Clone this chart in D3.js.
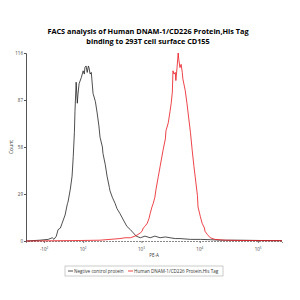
<!DOCTYPE html>
<html>
<head>
<meta charset="utf-8">
<script src="https://cdn.jsdelivr.net/npm/d3@7"></script>
<style>
  body { margin: 0; background: #fff; }
  text { font-family: "Open Sans", "Liberation Sans", sans-serif; }
</style>
</head>
<body>
<script>
// FACS histogram, PE-A on a biexponential-like axis (values in decade units)
var w = 300;
var h = 300;

// x axis ticks (decade units) and their labels
var tickPos = [1.33, 2, 3, 4, 5];
var tickLabels = ["-10", "10", "10", "10", "10"];
var tickPowers = ["2", "2", "3", "4", "5"];
var countTicks = [0, 29, 58, 87, 116];

// Negative control
var negX = [1.02, 1.26, 1.40, 1.47, 1.50, 1.54, 1.57, 1.61, 1.64, 1.66, 1.69, 1.73, 1.74, 1.78, 1.81, 1.83, 1.85, 1.86, 1.88, 1.90, 1.91, 1.93, 1.97, 2.00, 2.02, 2.03, 2.05, 2.07, 2.09, 2.10, 2.12, 2.14, 2.17, 2.21, 2.24, 2.27, 2.29, 2.33, 2.34, 2.38, 2.41, 2.45, 2.46, 2.50, 2.55, 2.58, 2.63, 2.69, 2.75, 2.81, 2.86, 2.91, 2.98, 3.06, 3.15, 3.23, 3.32, 3.41, 3.49, 3.58, 3.66, 3.84, 4.01, 4.18, 4.35, 4.69, 5.04, 5.41];
var negY = [0, 0.5, 1, 2, 1, 3, 7, 8, 11, 13, 16, 23, 24, 32, 40, 52, 67, 80, 98, 85, 90, 97, 101, 105, 103, 107, 108, 104, 108, 107, 103, 104, 91, 86, 79, 71, 64, 58, 54, 47, 40, 33, 31, 27, 23, 20, 17, 13, 9, 7, 5, 3, 2, 3, 2, 3, 2, 2.5, 2, 1.5, 1.5, 1, 1, 0.8, 0.5, 0.5, 0.3, 0.2];

// Human DNAM-1/CD226 Protein,His Tag
var posX = [1.02, 1.95, 2.29, 2.46, 2.63, 2.72, 2.81, 2.89, 2.94, 2.98, 3.01, 3.03, 3.06, 3.10, 3.13, 3.15, 3.18, 3.20, 3.23, 3.25, 3.29, 3.32, 3.34, 3.37, 3.41, 3.42, 3.46, 3.49, 3.51, 3.53, 3.54, 3.56, 3.58, 3.59, 3.61, 3.63, 3.64, 3.66, 3.68, 3.70, 3.71, 3.75, 3.78, 3.80, 3.84, 3.87, 3.90, 3.92, 3.96, 3.97, 4.01, 4.04, 4.08, 4.09, 4.13, 4.18, 4.26, 4.44, 4.69, 5.41];
var posY = [0, 0.3, 0.5, 1, 1.5, 2, 2, 3, 4, 5, 6, 8, 9, 11, 14, 17, 21, 23, 27, 32, 40, 46, 50, 56, 63, 68, 73, 80, 85, 92, 105, 103, 104, 99, 107, 116, 112, 107, 109, 104, 100, 93, 85, 79, 67, 56, 46, 40, 28, 21, 15, 11, 8, 6, 4, 2, 1, 0.5, 0.3, 0.2];

var xScale = d3.scaleLinear().domain([1.02, 5.41]).range([26, 282]);
var yScale = d3.scaleLinear().domain([0, 116]).range([241, 53]);

var svg = d3.select("body").append("svg")
    .attr("width", w)
    .attr("height", h);

// title
svg.append("text")
    .attr("x", 148).attr("y", 34)
    .attr("text-anchor", "middle")
    .attr("font-size", 7.3).attr("font-weight", "bold")
    .text("FACS analysis of Human DNAM-1/CD226 Protein,His Tag");
svg.append("text")
    .attr("x", 148).attr("y", 44)
    .attr("text-anchor", "middle")
    .attr("font-size", 7.3).attr("font-weight", "bold")
    .text("binding to 293T cell surface CD155");

// y axis
var yAxis = d3.axisLeft(yScale).tickValues(countTicks).tickSize(2).tickPadding(1);
var gy = svg.append("g").attr("transform", "translate(26,0)").call(yAxis);
gy.select(".domain").attr("stroke", "#555");
gy.selectAll(".tick line").attr("stroke", "#555");
gy.selectAll("text").attr("font-size", 4.5).attr("fill", "#444");

svg.append("text")
    .attr("transform", "translate(13,147) rotate(-90)")
    .attr("text-anchor", "middle")
    .attr("font-size", 5).attr("fill", "#333")
    .text("Count");

// x axis
var xAxis = d3.axisBottom(xScale).tickValues(tickPos).tickSize(2).tickFormat(function(d, i) { return ""; });
var gx = svg.append("g").attr("transform", "translate(0,241)").call(xAxis);
gx.select(".domain").attr("stroke", "#888").attr("stroke-dasharray", "2,1");
gx.selectAll(".tick line").attr("stroke", "#777");

var lbl = svg.selectAll(".xl")
    .data(tickPos)
    .enter()
    .append("text")
    .attr("class", "xl")
    .attr("x", function(d) { return xScale(d); })
    .attr("y", 251)
    .attr("text-anchor", "middle")
    .attr("font-size", 4.5).attr("fill", "#444");
lbl.append("tspan").text(function(d, i) { return tickLabels[i]; });
lbl.append("tspan").attr("dy", -2.5).attr("font-size", 3).text(function(d, i) { return tickPowers[i]; });

svg.append("text")
    .attr("x", 154).attr("y", 257)
    .attr("text-anchor", "middle")
    .attr("font-size", 4.5).attr("fill", "#333")
    .text("PE-A");

// histograms
var line = d3.line()
    .x(function(d) { return xScale(d[0]); })
    .y(function(d) { return yScale(d[1]); });

svg.append("path")
    .datum(d3.zip(negX, negY))
    .attr("d", line)
    .attr("fill", "none")
    .attr("stroke", "#222")
    .attr("stroke-width", 0.8);

svg.append("path")
    .datum(d3.zip(posX, posY))
    .attr("d", line)
    .attr("fill", "none")
    .attr("stroke", "#e8141b")
    .attr("stroke-width", 0.8);

// legend
var lg = svg.append("g");
lg.append("rect")
    .attr("x", 65).attr("y", 266).attr("width", 158).attr("height", 10)
    .attr("fill", "#fff").attr("stroke", "#999").attr("stroke-width", 0.5);
lg.append("line").attr("x1", 68).attr("x2", 73).attr("y1", 271).attr("y2", 271)
    .attr("stroke", "#222").attr("stroke-width", 0.8);
lg.append("text").attr("x", 74).attr("y", 272.8)
    .attr("font-size", 4.6).attr("fill", "#333")
    .text("Negtive control protein");
lg.append("line").attr("x1", 128).attr("x2", 133).attr("y1", 271).attr("y2", 271)
    .attr("stroke", "#e8141b").attr("stroke-width", 0.8);
lg.append("text").attr("x", 134).attr("y", 272.8)
    .attr("font-size", 4.6).attr("fill", "#333")
    .text("Human DNAM-1/CD226 Protein,His Tag");
</script>
</body>
</html>
